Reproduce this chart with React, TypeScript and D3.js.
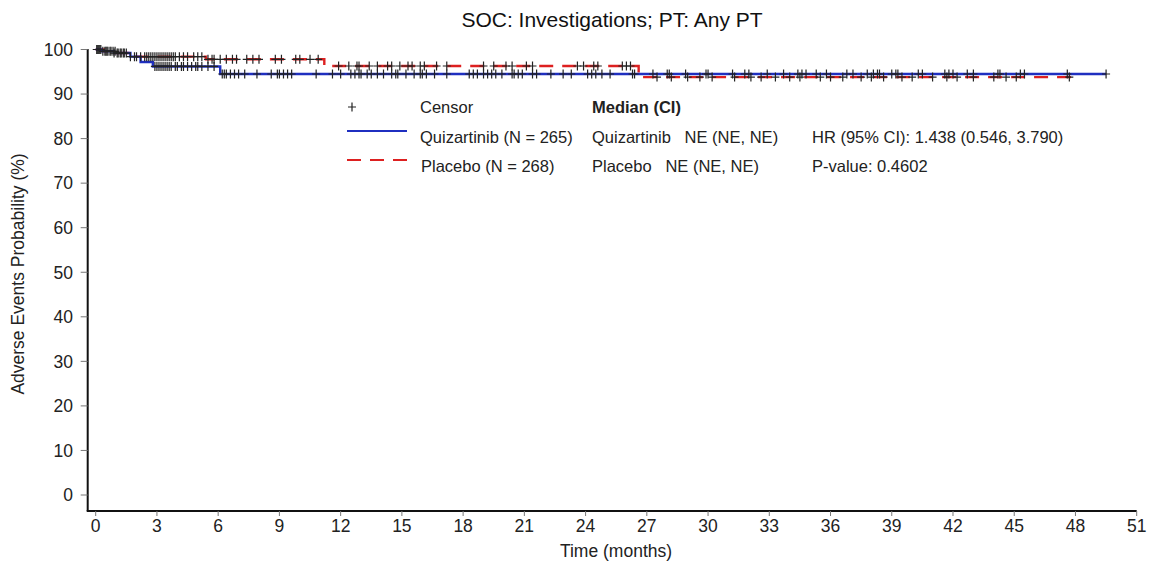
import React from "react";
import * as d3 from "d3";

const title = "SOC: Investigations; PT: Any PT";
const xTicks = [0, 3, 6, 9, 12, 15, 18, 21, 24, 27, 30, 33, 36, 39, 42, 45, 48, 51];
const yTicks = [0, 10, 20, 30, 40, 50, 60, 70, 80, 90, 100];

// Kaplan-Meier step points [time, survival %]
const quizSteps: [number, number][] = [
  [0, 100], [0.3, 99.6], [0.9, 99.2], [1.7, 98.4], [2.2, 97.2], [2.8, 96.2], [6.1, 94.5],
];
const quizEnd = 49.5;
const placeboSteps: [number, number][] = [
  [0, 100], [0.4, 99.6], [1.0, 99.2], [1.6, 98.4], [5.4, 97.8], [11.2, 96.3], [26.6, 93.8],
];
const placeboEnd = 47.9;

const quizCensor = [
  0.1, 0.2, 0.35, 0.5, 0.6, 0.75, 0.9, 1.05, 1.2, 1.35, 1.5,
  2.9, 3.0, 3.1, 3.2, 3.3, 3.4, 3.5, 3.6, 3.7, 3.9, 4.0, 4.2, 4.3, 4.5, 4.7, 4.9, 5.0, 5.2, 5.5, 5.8,
  6.2, 6.3, 6.4, 6.6, 6.8, 7.0, 7.3, 7.9, 8.6, 8.9, 9.0, 9.2, 9.4, 9.6, 10.8, 11.6,
  12.0, 12.5, 12.7, 12.9, 13.0, 13.3, 13.5, 13.8, 14.1, 14.5, 14.7, 14.8, 15.2, 15.6, 15.9, 16.0, 16.2, 16.6, 17.2,
  18.3, 18.5, 18.7, 19.0, 19.2, 19.4, 19.6, 19.9, 20.4, 20.5, 20.7, 20.9, 21.4, 21.6, 22.3, 22.9, 23.3,
  24.1, 24.3, 24.5, 24.8, 25.2, 26.3, 26.4,
  27.3, 28.0, 28.1, 28.9, 29.9, 30.0, 31.2, 31.8, 32.0, 32.9, 33.7, 34.4, 34.6, 34.8, 35.3, 35.8, 36.8, 37.1,
  37.8, 38.1, 38.3, 38.4, 39.0, 39.2, 39.3, 40.3, 40.5, 41.6, 41.8, 42.0, 42.7, 43.0, 44.2, 44.3, 45.3, 45.5, 47.6, 49.5,
];
const placeboCensor = [
  0.05, 0.15, 0.25, 0.45, 0.55, 0.7, 0.85, 0.95, 1.1, 1.25, 1.4,
  1.7, 1.9, 2.0, 2.2, 2.4, 2.5, 2.6, 2.7, 2.8, 2.9, 3.0, 3.1, 3.2, 3.3, 3.4, 3.5, 3.6, 3.7, 3.8, 3.9, 4.1, 4.3, 4.5, 4.8, 5.0, 5.2,
  5.5, 5.7, 5.8, 6.1, 6.4, 6.7, 6.9, 7.4, 7.7, 8.0, 8.8, 9.1, 9.8, 10.0, 10.5, 10.9,
  11.9, 12.4, 12.8, 12.9, 13.4, 13.8, 14.3, 14.5, 14.9, 15.3, 15.5, 15.9, 16.1, 16.7, 17.2, 19.0, 19.5, 20.1, 20.4,
  21.1, 21.4, 23.6, 23.9, 24.4, 24.6, 25.8, 26.0, 26.2,
  27.5, 28.2, 29.0, 29.6, 30.2, 31.3, 32.1, 32.6, 33.3, 34.0, 34.5, 35.5, 36.0, 36.6, 37.5, 38.0, 38.6, 39.5,
  40.0, 41.0, 41.7, 42.2, 43.0, 44.0, 44.6, 45.1, 47.7,
];

const BLUE = "#1f2fc0";
const RED = "#dd2020";
const FONT = "'Liberation Sans', Arial, sans-serif";

function survAt(steps: [number, number][], t: number) {
  let v = steps[0][1];
  for (const [s, val] of steps) if (s <= t) v = val;
  return v;
}

export default function App() {
  const x = d3.scaleLinear().domain([0, 51]).range([95.7, 1136.7]);
  const y = d3.scaleLinear().domain([0, 100]).range([495, 49.5]);
  const line = d3
    .line<[number, number]>()
    .x((d) => x(d[0]))
    .y((d) => y(d[1]))
    .curve(d3.curveStepAfter);

  const quizPts: [number, number][] = [...quizSteps, [quizEnd, quizSteps[quizSteps.length - 1][1]]];
  const plaPts: [number, number][] = [...placeboSteps, [placeboEnd, placeboSteps[placeboSteps.length - 1][1]]];

  const axisLeft = 87.7;
  const axisBottom = 511;
  const plus = (cx: number, cy: number, key: string) => (
    <path key={key} d={`M${cx - 4},${cy}H${cx + 4}M${cx},${cy - 4.5}V${cy + 4.5}`} stroke="#222" strokeWidth={1.2} fill="none" />
  );

  return (
    <svg width={1154} height={565} style={{ position: "absolute", left: 0, top: 0, background: "#fff" }} fontFamily={FONT}>
      <rect width={1154} height={565} fill="#fff" />
      <text x={612} y={27} textAnchor="middle" fontSize={21} fill="#111">{title}</text>

      {/* axes */}
      <line x1={axisLeft} x2={axisLeft} y1={49} y2={axisBottom} stroke="#111" strokeWidth={2} />
      <line x1={axisLeft - 1} x2={x(51)} y1={axisBottom} y2={axisBottom} stroke="#111" strokeWidth={2.2} />
      {yTicks.map((t) => (
        <g key={"y" + t}>
          <line x1={axisLeft - 7} x2={axisLeft} y1={y(t)} y2={y(t)} stroke="#777" strokeWidth={1} />
          <text x={73} y={y(t)} dy="0.36em" textAnchor="end" fontSize={17.5} fill="#222">{t}</text>
        </g>
      ))}
      {xTicks.map((t) => (
        <g key={"x" + t}>
          <line x1={x(t)} x2={x(t)} y1={axisBottom} y2={axisBottom + 5} stroke="#777" strokeWidth={1} />
          <text x={x(t)} y={532} textAnchor="middle" fontSize={17.5} fill="#222">{t}</text>
        </g>
      ))}
      <text x={616} y={557} textAnchor="middle" fontSize={17.5} fill="#222">Time (months)</text>
      <text transform="translate(24,274) rotate(-90)" textAnchor="middle" fontSize={17.5} fill="#222">
        Adverse Events Probability (%)
      </text>

      {/* curves */}
      <path d={line(plaPts) || ""} stroke={RED} strokeWidth={2.4} fill="none" strokeDasharray="14,9" />
      <path d={line(quizPts) || ""} stroke={BLUE} strokeWidth={2.4} fill="none" />
      {placeboCensor.map((t, i) => plus(x(t), y(survAt(placeboSteps, t)), "pc" + i))}
      {quizCensor.map((t, i) => plus(x(t), y(survAt(quizSteps, t)), "qc" + i))}

      {/* legend */}
      <g fontSize={16.5} fill="#222">
        {plus(352, 107, "lg")}
        <text x={420} y={113}>Censor</text>
        <line x1={347} x2={407} y1={131} y2={131} stroke={BLUE} strokeWidth={2.2} />
        <text x={420} y={143}>Quizartinib (N = 265)</text>
        <line x1={347} x2={407} y1={160} y2={160} stroke={RED} strokeWidth={2.2} strokeDasharray="14,9" />
        <text x={421} y={172}>Placebo (N = 268)</text>
        <text x={592} y={113} fontWeight="bold">Median (CI)</text>
        <text x={592} y={143} xmlSpace="preserve">Quizartinib   NE (NE, NE)</text>
        <text x={592} y={172} xmlSpace="preserve">Placebo   NE (NE, NE)</text>
        <text x={812} y={143}>HR (95% CI): 1.438 (0.546, 3.790)</text>
        <text x={812} y={172}>P-value: 0.4602</text>
      </g>
    </svg>
  );
}
